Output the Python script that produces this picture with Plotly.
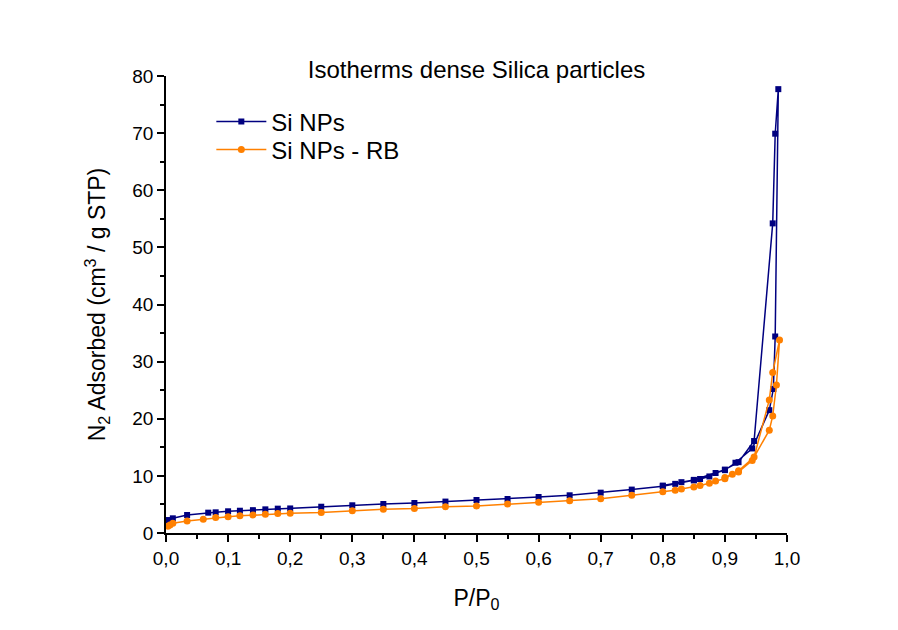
import plotly.graph_objects as go

# Si NPs: adsorption branch, then desorption branch
si_x = [0.004, 0.011, 0.034, 0.068, 0.08, 0.1, 0.119, 0.14, 0.16, 0.18, 0.2, 0.25,
        0.3, 0.35, 0.4, 0.45, 0.5, 0.55, 0.6, 0.65, 0.7, 0.75, 0.8, 0.82, 0.83, 0.85,
        0.86, 0.875, 0.885, 0.9, 0.917, 0.944, 0.9715, 0.978, 0.981, 0.986,
        0.981, 0.977, 0.947, 0.922, 0.9, 0.85, 0.8]
si_y = [2.27, 2.57, 3.15, 3.56, 3.62, 3.8, 3.9, 4.0, 4.14, 4.26, 4.3, 4.6,
        4.85, 5.08, 5.25, 5.5, 5.78, 5.95, 6.3, 6.6, 7.06, 7.6, 8.2, 8.6, 8.9, 9.2,
        9.45, 9.9, 10.5, 11.0, 12.3, 14.8, 21.5, 25.2, 34.4, 77.7,
        69.9, 54.2, 16.1, 12.4, 11.1, 9.3, 8.3]

# Si NPs - RB
rb_x = [0.003, 0.0064, 0.011, 0.034, 0.06, 0.08, 0.1, 0.119, 0.14, 0.16, 0.18, 0.2,
        0.25, 0.3, 0.35, 0.4, 0.45, 0.5, 0.55, 0.6, 0.65, 0.7, 0.75, 0.8, 0.82, 0.83,
        0.85, 0.86, 0.875, 0.885, 0.9, 0.912, 0.922, 0.944, 0.9715, 0.977, 0.983, 0.988,
        0.977, 0.9715, 0.947, 0.922, 0.9]
rb_y = [1.2, 1.4, 1.7, 2.1, 2.4, 2.7, 2.85, 3.0, 3.15, 3.27, 3.4, 3.45,
        3.6, 3.9, 4.15, 4.3, 4.6, 4.73, 5.08, 5.4, 5.66, 6.0, 6.6, 7.2, 7.5, 7.7,
        8.05, 8.3, 8.7, 9.1, 9.5, 10.3, 10.7, 12.7, 18.0, 20.5, 25.9, 33.8,
        28.1, 23.3, 13.3, 10.9, 9.7]

FONT = "Liberation Sans, Arial, sans-serif"

fig = go.Figure()
fig.add_scatter(
    x=si_x, y=si_y, name="Si NPs", mode="lines+markers", legend="legend",
    line=dict(color="#000080", width=1.5),
    marker=dict(symbol="square", size=6, color="#000080"),
)
fig.add_scatter(
    x=rb_x, y=rb_y, name="Si NPs - RB", mode="lines+markers", legend="legend2",
    line=dict(color="#ff8000", width=1.5),
    marker=dict(symbol="circle", size=7, color="#ff8000"),
)

axis_common = dict(
    showline=True, linecolor="black", linewidth=1.5, mirror=False,
    showgrid=False, zeroline=False,
    ticks="outside", ticklen=7, tickwidth=1.5, tickcolor="black",
    tickfont=dict(family=FONT, size=19, color="black"),
    title_font=dict(family=FONT, size=23, color="black"),
)

legend_common = dict(
    xanchor="left", yanchor="middle",
    bgcolor="rgba(0,0,0,0)",
    font=dict(family=FONT, size=24, color="black"),
    itemwidth=50,
)

# the page body adds an 8px offset, so margins are shifted by that much
fig.update_layout(
    width=898, height=630,
    paper_bgcolor="white", plot_bgcolor="white",
    margin=dict(l=158, r=119, t=68, b=105),
    separators=", ",
    font=dict(family=FONT, color="black"),
    title=dict(
        text="Isotherms dense Silica particles",
        x=0.5, xref="paper", xanchor="center",
        y=1 - 62 / 630, yref="container", yanchor="middle",
        font=dict(family=FONT, size=24, color="black"),
    ),
    xaxis=dict(
        range=[0, 1.0], dtick=0.1, tickformat=".1f",
        minor=dict(dtick=0.05, ticks="outside", ticklen=4, tickwidth=1.5, tickcolor="black"),
        title=dict(text="P/P<sub>0</sub>", standoff=22),
        **axis_common,
    ),
    yaxis=dict(
        range=[0, 80], dtick=10,
        minor=dict(dtick=5, ticks="outside", ticklen=4, tickwidth=1.5, tickcolor="black"),
        title=dict(text="N<sub>2</sub> Adsorbed (cm<sup>3</sup> / g STP)", standoff=20),
        **axis_common,
    ),
    legend=dict(x=0.073, y=1 - (122 - 76) / 457, **legend_common),
    legend2=dict(x=0.073, y=1 - (150 - 76) / 457, **legend_common),
    showlegend=True,
)

fig.write_html("out.html")
